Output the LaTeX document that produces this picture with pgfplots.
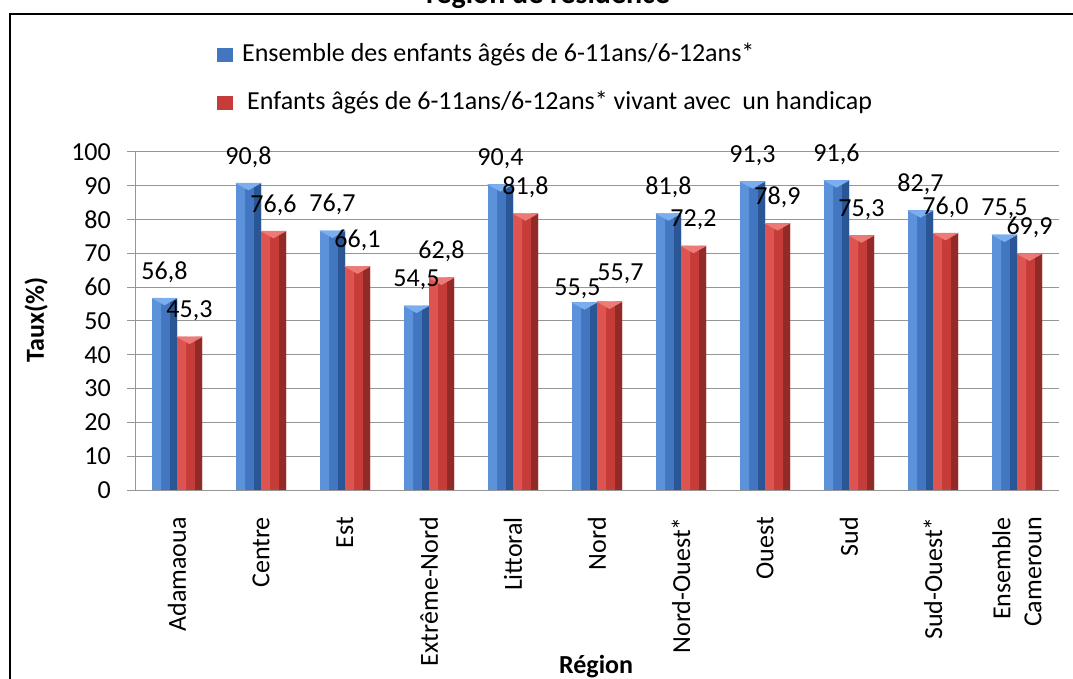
\documentclass[border=0pt]{standalone}
\usepackage{fontspec}
\setmainfont{Carlito}
\usepackage{pgfplots}
\pgfplotsset{compat=1.18}
\usepackage{pgfplotstable}

\definecolor{gridc}{RGB}{150,150,150}
\definecolor{bluel}{RGB}{92,146,218}
\definecolor{bluem}{RGB}{66,118,192}
\definecolor{blued}{RGB}{42,86,150}
\definecolor{bluet}{RGB}{122,174,238}
\definecolor{redl}{RGB}{222,84,80}
\definecolor{redm}{RGB}{198,60,56}
\definecolor{redd}{RGB}{146,42,40}
\definecolor{redt}{RGB}{236,122,118}

\newcommand\fs{\fontsize{26bp}{31bp}\selectfont}

\pgfplotstableread{
x  ens   hand
0  56.8  45.3
1  90.8  76.6
2  76.7  66.1
3  54.5  62.8
4  90.4  81.8
5  55.5  55.7
6  81.8  72.2
7  91.3  78.9
8  91.6  75.3
9  82.7  76.0
10 75.5  69.9
}\data

\pgfplotsset{
  strip/.style n args={3}{ybar, bar width=#1, bar shift=#2, draw=none, fill=#3, forget plot},
  cap/.style n args={2}{only marks, mark=triangle*, mark size=14.43bp, forget plot,
      color=#2, mark options={draw=none, fill=#2, xshift=#1, yshift=-2.33bp, yscale=-0.323}},
  % etiquettes : decalage de barre, puis decalage x et y de l'etiquette
  lbl/.style n args={3}{ybar, bar width=25bp, bar shift=#1, draw=none, fill=none, forget plot,
      nodes near coords={\pgfmathprintnumber[fixed, fixed zerofill, precision=1,
          use comma, assume math mode=true]{\pgfplotspointmeta}},
      nodes near coords style={font=\fs, anchor=base, inner sep=0pt,
          xshift=#1, xshift=#2, yshift=19bp, yshift=#3}},
  sq legend/.style={legend image code/.code={\fill[##1] (0bp,-7bp) rectangle (16bp,7bp);}},
}

\begin{document}
\begin{tikzpicture}
\useasboundingbox (0bp,0bp) rectangle (1073bp,679bp);
\clip (0bp,0bp) rectangle (1073bp,679bp);

% cadre (coupe a droite et en bas)
\draw[line width=2bp] (10bp,-20bp) -- (10bp,665bp) -- (1090bp,665bp);
\node[font=\bfseries\fontsize{30bp}{36bp}\selectfont, anchor=base] at (548bp,675bp) {région de résidence};

\begin{axis}[
    at={(135bp,189bp)}, anchor=south west,
    scale only axis, width=924bp, height=338bp,
    xmin=-0.5, xmax=10.5, ymin=0, ymax=100,
    ytick={0,10,...,100},
    xtick={0,...,10},
    xticklabels={Adamaoua, Centre, Est, Extrême-Nord, Littoral, Nord,
        Nord-Ouest*, Ouest, Sud, Sud-Ouest*, {Ensemble\\Cameroun}},
    axis x line=bottom, axis y line=left,
    axis line style={-, draw=gridc, line width=1bp},
    ymajorgrids, grid style={gridc, line width=1bp},
    major tick length=8bp, tick align=outside,
    tick style={gridc, line width=1bp},
    xtick style={draw=none},
    /pgf/number format/assume math mode=true,
    yticklabel style={font=\fs, anchor=east, inner sep=0pt},
    yticklabel shift=16bp,
    xticklabel style={font=\fs, rotate=90, anchor=east, inner sep=0pt, align=right},
    xticklabel shift=19bp,
    xlabel={Région},
    xlabel style={font=\bfseries\fs, at={(axis description cs:0.499,-0.544)}, anchor=base},
    ylabel={Taux(\%)},
    ylabel style={font=\bfseries\fs, at={(axis description cs:-0.0985,0.503)}, anchor=base},
    legend style={at={(axis description cs:0.0887,1.3225)}, anchor=north west,
        draw=none, fill=none, font=\fs, inner sep=0pt, row sep=24bp,
        nodes={inner sep=0pt, text height=18bp, text depth=6bp},
        cells={anchor=west},
        /tikz/every odd column/.append style={column sep=9bp}},
]

% Ensemble des enfants (barre + reflets)
\addplot[ybar, bar width=25bp, bar shift=-12.5bp, draw=none, fill=bluem, sq legend]
    table[x=x, y=ens] {\data};
\addplot[strip={9bp}{-20.5bp}{bluel}] table[x=x, y=ens] {\data};
\addplot[strip={7bp}{-3.5bp}{blued}] table[x=x, y=ens] {\data};
\addplot[cap={-12.5bp}{bluet}] table[x=x, y=ens] {\data};

% Enfants vivant avec un handicap (barre + reflets)
\addplot[ybar, bar width=25bp, bar shift=12.5bp, draw=none, fill=redm, sq legend]
    table[x=x, y=hand] {\data};
\addplot[strip={9bp}{4.5bp}{redl}] table[x=x, y=hand] {\data};
\addplot[strip={7bp}{21.5bp}{redd}] table[x=x, y=hand] {\data};
\addplot[cap={12.5bp}{redt}] table[x=x, y=hand] {\data};

% etiquettes de valeurs (Nord decale a part)
\addplot[lbl={-12.5bp}{0bp}{0bp}, skip coords between index={5}{6}]
    table[x=x, y=ens] {\data};
\addplot[lbl={-12.5bp}{-7bp}{-12bp}, skip coords between index={0}{5},
    skip coords between index={6}{11}] table[x=x, y=ens] {\data};
\addplot[lbl={12.5bp}{0bp}{0bp}, skip coords between index={5}{6}]
    table[x=x, y=hand] {\data};
\addplot[lbl={12.5bp}{11bp}{2bp}, skip coords between index={0}{5},
    skip coords between index={6}{11}] table[x=x, y=hand] {\data};

\legend{Ensemble des enfants âgés de 6-11ans/6-12ans*,
    \hspace*{5bp}Enfants âgés de 6-11ans/6-12ans* vivant avec\ \ un handicap}
\end{axis}
\end{tikzpicture}
\end{document}
